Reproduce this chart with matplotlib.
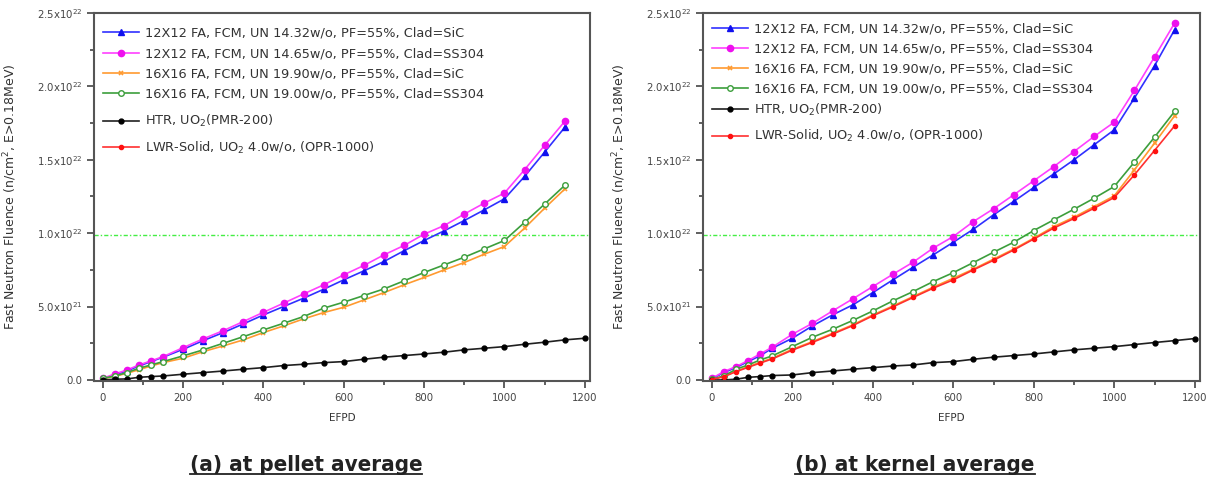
import matplotlib
matplotlib.use("Agg")
import matplotlib.pyplot as plt
from matplotlib.lines import Line2D
import numpy as np

# EFPD sample points
days = [0, 30, 60, 90, 120, 150] + list(range(200, 1200, 50))
days_htr = days + [1200]

# (a) pellet average, fluence in units of 1e22 n/cm2
a_fa12_sic = [0.008, 0.035, 0.062, 0.095, 0.125, 0.155, 0.209, 0.268, 0.323, 0.382, 0.443, 0.5, 0.557,
              0.618, 0.682, 0.743, 0.807, 0.88, 0.95, 1.016, 1.086, 1.159, 1.234, 1.386, 1.552, 1.72]
a_fa12_ss = [0.011, 0.041, 0.068, 0.102, 0.13, 0.159, 0.22, 0.28, 0.336, 0.398, 0.461, 0.523, 0.586,
             0.648, 0.716, 0.78, 0.852, 0.916, 0.993, 1.052, 1.13, 1.205, 1.273, 1.432, 1.598, 1.761]
a_fa16_sic = [0.008, 0.025, 0.045, 0.07, 0.095, 0.118, 0.148, 0.193, 0.232, 0.273, 0.323, 0.368, 0.416,
              0.459, 0.495, 0.545, 0.595, 0.648, 0.698, 0.75, 0.80, 0.857, 0.909, 1.034, 1.17, 1.30]
a_fa16_ss = [0.011, 0.027, 0.05, 0.08, 0.102, 0.125, 0.164, 0.205, 0.25, 0.295, 0.341, 0.386, 0.432,
             0.489, 0.53, 0.575, 0.62, 0.675, 0.732, 0.784, 0.836, 0.893, 0.95, 1.073, 1.198, 1.325]
a_htr = [0.0, 0.005, 0.007, 0.018, 0.023, 0.027, 0.039, 0.05, 0.061, 0.073, 0.084, 0.098, 0.107, 0.118,
         0.125, 0.141, 0.155, 0.166, 0.177, 0.189, 0.205, 0.216, 0.227, 0.243, 0.257, 0.273, 0.284]
a_lwr = []  # not visible in the pellet-average panel

# (b) kernel average
b_fa12_sic = [0.008, 0.05, 0.085, 0.125, 0.165, 0.216, 0.284, 0.368, 0.443, 0.511, 0.595, 0.682, 0.768,
              0.852, 0.938, 1.027, 1.125, 1.216, 1.311, 1.404, 1.50, 1.602, 1.704, 1.92, 2.14, 2.386]
b_fa12_ss = [0.011, 0.057, 0.091, 0.132, 0.177, 0.223, 0.311, 0.386, 0.470, 0.552, 0.636, 0.720, 0.802,
             0.898, 0.977, 1.079, 1.166, 1.261, 1.357, 1.454, 1.556, 1.659, 1.756, 1.972, 2.20, 2.431]
b_fa16_sic = [0.005, 0.025, 0.06, 0.09, 0.12, 0.148, 0.209, 0.261, 0.318, 0.375, 0.443, 0.504, 0.568,
              0.632, 0.693, 0.755, 0.823, 0.891, 0.966, 1.045, 1.109, 1.181, 1.254, 1.431, 1.613, 1.80]
b_fa16_ss = [0.005, 0.027, 0.073, 0.102, 0.136, 0.164, 0.227, 0.291, 0.345, 0.405, 0.470, 0.539, 0.602,
             0.670, 0.731, 0.80, 0.87, 0.938, 1.018, 1.091, 1.163, 1.238, 1.318, 1.484, 1.654, 1.829]
b_htr = [0.0, 0.0, 0.005, 0.018, 0.023, 0.03, 0.034, 0.05, 0.061, 0.073, 0.084, 0.095, 0.102, 0.118,
         0.125, 0.141, 0.155, 0.166, 0.177, 0.191, 0.205, 0.216, 0.227, 0.241, 0.255, 0.268, 0.282]
b_lwr = [0.003, 0.022, 0.056, 0.086, 0.115, 0.143, 0.203, 0.256, 0.312, 0.37, 0.437, 0.498, 0.562,
         0.625, 0.682, 0.75, 0.815, 0.885, 0.96, 1.035, 1.10, 1.17, 1.243, 1.397, 1.563, 1.731]

limit_line = 0.99  # 1e22 n/cm2 design limit

labels = [
    "12X12 FA, FCM, UN 14.32w/o, PF=55%, Clad=SiC",
    "12X12 FA, FCM, UN 14.65w/o, PF=55%, Clad=SS304",
    "16X16 FA, FCM, UN 19.90w/o, PF=55%, Clad=SiC",
    "16X16 FA, FCM, UN 19.00w/o, PF=55%, Clad=SS304",
    r"HTR, UO$_2$(PMR-200)",
    r"LWR-Solid, UO$_2$ 4.0w/o, (OPR-1000)",
]
ytick_vals = [0.0, 0.5, 1.0, 1.5, 2.0, 2.5]
ytick_labels = ["0.0", r"5.0x10$^{21}$", r"1.0x10$^{22}$", r"1.5x10$^{22}$",
                r"2.0x10$^{22}$", r"2.5x10$^{22}$"]
panel_titles = ["(a) at pellet average", "(b) at kernel average"]

styles = [
    dict(color="#3030ff", marker="^", ms=4.5, mfc="#1010ee", mec="#1010ee"),
    dict(color="#ff40ff", marker="o", ms=4.5, mfc="#ee10ee", mec="#ee10ee"),
    dict(color="#ff9a30", marker="x", ms=3.5, mew=1.2),
    dict(color="#3c9e3c", marker="o", ms=4, mfc="white", mec="#3c9e3c"),
    dict(color="#202020", marker="o", ms=3.5, mfc="black", mec="black"),
    dict(color="#ff3030", marker="o", ms=3, mfc="#ff1010", mec="#ff1010"),
]

fig = plt.figure(figsize=(12.11, 4.8), dpi=100)
ax_a = fig.add_axes([0.0776, 0.2063, 0.4096, 0.7667])
ax_b = fig.add_axes([0.5805, 0.2063, 0.4104, 0.7667])

# legend anchors (top of the FA block, top of the reference-reactor block)
panels = [
    (ax_a, [a_fa12_sic, a_fa12_ss, a_fa16_sic, a_fa16_ss, a_htr, a_lwr], 0.969, 0.735, -0.152),
    (ax_b, [b_fa12_sic, b_fa12_ss, b_fa16_sic, b_fa16_ss, b_htr, b_lwr], 0.982, 0.766, -0.150),
]

leg_kw = dict(loc="upper left", frameon=False, fontsize=9.3, handlelength=2.8,
              handletextpad=0.5, borderaxespad=0, borderpad=0.2, labelcolor="#333333")

for ax, series, top1, top2, ylab_x in panels:
    ax.axhline(limit_line * 1e22, color="#44ee44", lw=1.0, ls=(0, (3, 1.5, 1, 1.5)))
    handles = []
    for i, (vals, lab, st) in enumerate(zip(series, labels, styles)):
        x = days_htr if i == 4 else days[:len(vals)]
        y = np.array(vals, dtype=float) * 1e22
        h, = ax.plot(x, y, lw=1.2, label=lab, **st)
        handles.append(h)

    ax.set_xlim(-22, 1213)
    ax.set_ylim(-0.007e22, 2.5e22)
    ax.set_xticks(range(0, 1201, 200))
    ax.set_xticks(range(100, 1200, 200), minor=True)
    ax.set_yticks([v * 1e22 for v in ytick_vals])
    ax.set_yticklabels(ytick_labels)
    ax.set_yticks([v * 1e22 for v in np.arange(0.25, 2.5, 0.5)], minor=True)
    ax.tick_params(which="both", direction="out", colors="#444444", labelsize=7.3, width=1.2)
    ax.tick_params(which="major", length=5)
    ax.tick_params(which="minor", length=3)
    for sp in ax.spines.values():
        sp.set_color("#555555")
        sp.set_linewidth(1.5)
    ax.set_xlabel("EFPD", fontsize=7.5, color="#333333", labelpad=7)
    ax.set_ylabel(r"Fast Neutron Fluence (n/cm$^2$, E>0.18MeV)", fontsize=9, color="#333333")
    ax.yaxis.set_label_coords(ylab_x, 0.5)

    leg1 = ax.legend(handles=handles[:4], bbox_to_anchor=(0.012, top1), labelspacing=0.55, **leg_kw)
    ax.add_artist(leg1)
    ax.legend(handles=handles[4:], bbox_to_anchor=(0.012, top2), labelspacing=0.8, **leg_kw)

# bold, underlined captions beneath each panel
renderer = fig.canvas.get_renderer()
for xc, title in zip([0.2527, 0.7556], panel_titles):
    t = fig.text(xc, 0.031, title, ha="center", va="center", fontsize=16, fontweight="bold",
                 fontstretch="condensed", family=["DejaVu Sans"], color="#222222")
    bb = t.get_window_extent(renderer).transformed(fig.transFigure.inverted())
    fig.add_artist(Line2D([bb.x0, bb.x1], [bb.y0 + 0.002, bb.y0 + 0.002],
                          transform=fig.transFigure, color="#222222", lw=1.3))

fig.savefig("out.png", dpi=100)
